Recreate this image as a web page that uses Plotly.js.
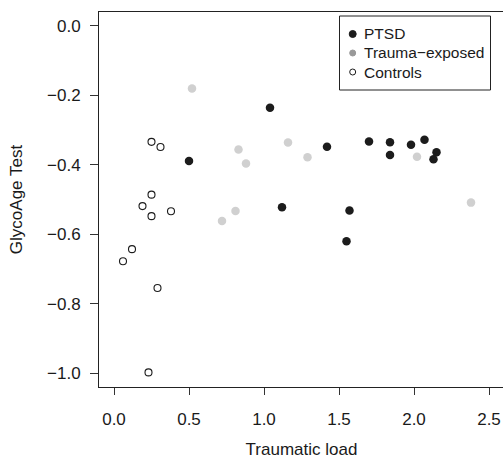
<!DOCTYPE html>
<html>
<head>
<meta charset="utf-8">
<script src="https://cdn.plot.ly/plotly-3.0.1.min.js"></script>
<style>
html,body{margin:0;padding:0;overflow:hidden;background:#fff;}
#chart{width:505px;height:459px;}
</style>
</head>
<body>
<div id="chart"></div>
<script>
// Data
const ptsdX = [0.50, 1.04, 1.12, 1.42, 1.70, 1.84, 1.84, 1.98, 2.07, 2.15, 2.13, 1.57, 1.55];
const ptsdY = [-0.389, -0.236, -0.522, -0.348, -0.333, -0.335, -0.372, -0.342, -0.328, -0.364, -0.384, -0.532, -0.620];

const traumaX = [0.52, 0.83, 0.88, 1.16, 1.29, 0.72, 0.81, 2.02, 2.38];
const traumaY = [-0.180, -0.356, -0.396, -0.336, -0.378, -0.562, -0.533, -0.377, -0.509];

const controlX = [0.25, 0.31, 0.25, 0.19, 0.25, 0.38, 0.12, 0.06, 0.29, 0.23];
const controlY = [-0.334, -0.349, -0.486, -0.519, -0.548, -0.534, -0.643, -0.678, -0.755, -0.998];

const groupNames = ['PTSD', 'Trauma\u2212exposed', 'Controls'];
const xTickVals = [0, 0.5, 1, 1.5, 2, 2.5];
const xTickText = ['0.0', '0.5', '1.0', '1.5', '2.0', '2.5'];
const yTickVals = [0, -0.2, -0.4, -0.6, -0.8, -1.0];
const yTickText = ['0.0', '\u22120.2', '\u22120.4', '\u22120.6', '\u22120.8', '\u22121.0'];

const ink = '#1a1a1a';
const fam = 'Liberation Sans, Arial, Helvetica, sans-serif';
const font = {family: fam, size: 17, color: ink};
const legFont = {family: fam, size: 15.5, color: ink};

const W = 505, H = 459;
const M = {l: 99, r: 1, t: 12, b: 72};
const px2x = p => (p - M.l) / (W - M.l - M.r);
const px2y = p => (H - M.b - p) / (H - M.t - M.b);

const traces = [
  {x: ptsdX, y: ptsdY, mode: 'markers', type: 'scatter', name: groupNames[0], hoverinfo: 'skip',
   marker: {size: 8.5, color: '#1c1c1c', line: {width: 0}}},
  {x: traumaX, y: traumaY, mode: 'markers', type: 'scatter', name: groupNames[1], hoverinfo: 'skip',
   marker: {size: 8.5, color: '#d0d0d0', line: {width: 0}}},
  {x: controlX, y: controlY, mode: 'markers', type: 'scatter', name: groupNames[2], hoverinfo: 'skip',
   marker: {size: 7, color: '#ffffff', symbol: 'circle', line: {width: 1.1, color: '#1c1c1c'}}}
];

// Hand-built legend (box, symbols, text)
const legBox = {x0: 339.5, x1: 490.5, y0: 16, y1: 90};
const legRows = [34, 53, 72];
const legSymX = 352.7, legTextX = 362;
const legSym = [
  {fill: '#1c1c1c', line: '#1c1c1c', d: 7},
  {fill: '#999999', line: '#999999', d: 6},
  {fill: '#ffffff', line: '#1c1c1c', d: 6}
];
const shapes = [{
  type: 'rect', xref: 'paper', yref: 'paper',
  x0: px2x(legBox.x0), x1: px2x(legBox.x1), y0: px2y(legBox.y1), y1: px2y(legBox.y0),
  line: {color: '#222', width: 1}, fillcolor: '#ffffff', layer: 'above'
}];
const annotations = [];
groupNames.forEach((g, i) => {
  const s = legSym[i];
  shapes.push({
    type: 'circle', xref: 'paper', yref: 'paper', xsizemode: 'pixel', ysizemode: 'pixel',
    xanchor: px2x(legSymX), yanchor: px2y(legRows[i]),
    x0: -s.d / 2, x1: s.d / 2, y0: -s.d / 2, y1: s.d / 2,
    fillcolor: s.fill, line: {color: s.line, width: 1}, layer: 'above'
  });
  annotations.push({
    xref: 'paper', yref: 'paper', x: px2x(legTextX), y: px2y(legRows[i]),
    xanchor: 'left', yanchor: 'middle', text: g, showarrow: false, font: legFont
  });
});

const layout = {
  width: W, height: H,
  margin: M,
  paper_bgcolor: '#ffffff', plot_bgcolor: '#ffffff',
  font: font,
  showlegend: false,
  shapes: shapes,
  annotations: annotations,
  xaxis: {
    range: [-0.1, 2.6], tickvals: xTickVals, ticktext: xTickText,
    ticks: 'outside', ticklen: 7, tickcolor: '#333', tickwidth: 1,
    ticklabelstandoff: 10,
    showline: true, linecolor: '#222', linewidth: 1, mirror: true,
    showgrid: false, zeroline: false,
    title: {text: 'Traumatic load', font: font, standoff: 16}
  },
  yaxis: {
    range: [-1.04, 0.04], tickvals: yTickVals, ticktext: yTickText,
    ticks: 'outside', ticklen: 8, tickcolor: '#333', tickwidth: 1,
    ticklabelstandoff: 6,
    showline: true, linecolor: '#222', linewidth: 1, mirror: true,
    showgrid: false, zeroline: false,
    title: {text: 'GlycoAge Test', font: font, standoff: 20}
  }
};

Plotly.newPlot('chart', traces, layout, {displayModeBar: false, staticPlot: true});
</script>
</body>
</html>
